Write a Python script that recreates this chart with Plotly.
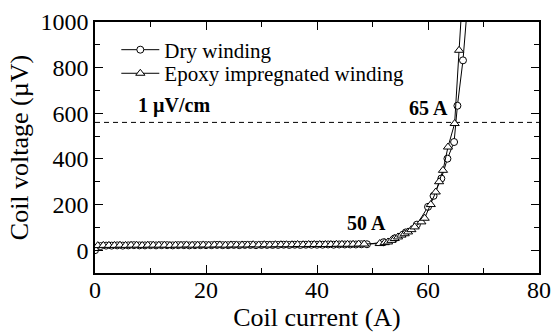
import plotly.graph_objects as go

# ---- data ----
dry_current = [0, 1, 2, 3, 4, 5, 6, 7, 8, 9, 10, 11, 12, 13, 14, 15, 16, 17, 18, 19,
               20, 21, 22, 23, 24, 25, 26, 27, 28, 29, 30, 31, 32, 33, 34, 35, 36, 37, 38, 39,
               40, 41, 42, 43, 44, 45, 46, 47, 48, 49,
               52, 54, 56, 58, 60, 61, 62.4, 63.5, 64.7, 65.3, 66.3, 67.2]
dry_voltage = [0, 18, 20, 20, 21, 20, 21, 22, 21, 21, 22, 21, 22, 22, 21, 22, 22, 21, 22, 22,
               22, 22, 23, 22, 22, 23, 22, 23, 23, 22, 23, 23, 23, 23, 24, 23, 24, 23, 24, 24,
               24, 24, 25, 24, 25, 25, 25, 25, 26, 26,
               35, 52, 78, 112, 190, 238, 314, 401, 474, 633, 832, 1100]

epoxy_current = [0.5, 1.5, 2.5, 3.5, 4.5, 5.5, 6.5, 7.5, 8.5, 9.5, 10.5, 11.5, 12.5, 13.5,
                 14.5, 15.5, 16.5, 17.5, 18.5, 19.5, 20.5, 21.5, 22.5, 23.5, 24.5, 25.5,
                 26.5, 27.5, 28.5, 29.5, 30.5, 31.5, 32.5, 33.5, 34.5, 35.5, 36.5, 37.5,
                 38.5, 39.5, 40.5, 41.5, 42.5, 43.5, 44.5, 45.5, 46.5, 47.5, 48.5,
                 51.3, 52.2, 52.8, 53.4, 54.0, 54.6, 55.2, 55.8, 56.4, 57.0, 57.6, 58.8,
                 59.4, 60.5, 61.4, 62.0, 62.7, 63.6, 64.8, 65.6, 66.3]
epoxy_voltage = [20, 21, 21, 21, 22, 21, 22, 22, 21, 22, 22, 22, 22, 21, 22, 22, 23, 22,
                 22, 23, 22, 23, 23, 22, 23, 23, 23, 23, 24, 23, 24, 23, 24, 24, 24, 24,
                 25, 24, 25, 25, 25, 25, 25, 26, 26, 26, 26, 27, 27,
                 29, 33, 36, 43, 51, 58, 66, 72, 80, 90, 102, 124,
                 140, 200, 255, 300, 350, 452, 555, 876, 1150]

criterion_voltage = 560
x_ticks = [0, 20, 40, 60, 80]
y_ticks = [0, 200, 400, 600, 800, 1000]

FONT = "Times New Roman, Liberation Serif, serif"

fig = go.Figure()
fig.add_trace(go.Scatter(
    x=dry_current, y=dry_voltage, mode="lines+markers", name="Dry winding",
    line=dict(color="black", width=1), legend="legend",
    marker=dict(symbol="circle", size=7, color="white", line=dict(color="black", width=1)),
))
fig.add_trace(go.Scatter(
    x=epoxy_current, y=epoxy_voltage, mode="lines+markers", name="Epoxy impregnated winding",
    line=dict(color="black", width=1), legend="legend2",
    marker=dict(symbol="triangle-up", size=8, color="white", line=dict(color="black", width=1)),
))

fig.add_shape(type="line", xref="x", yref="y", x0=0, x1=80,
              y0=criterion_voltage, y1=criterion_voltage,
              line=dict(color="black", width=1, dash="5px,4px"), layer="below")

ann_font = dict(family=FONT, size=20, color="black")
fig.add_annotation(x=14.2, y=635, text="<b>1 µV/cm</b>", showarrow=False, font=ann_font)
fig.add_annotation(x=60.1, y=622, text="<b>65 A</b>", showarrow=False, font=ann_font)
fig.add_annotation(x=49.0, y=118, text="<b>50 A</b>", showarrow=False, font=ann_font)

axis_common = dict(
    showline=True, linecolor="black", linewidth=1.5, mirror="ticks",
    ticks="inside", ticklen=8, tickwidth=1, tickcolor="black",
    showgrid=False, zeroline=False, automargin=False,
    tickfont=dict(family=FONT, size=24, color="black"),
)

fig.update_xaxes(
    range=[0, 80], tickvals=x_ticks, ticklabelstandoff=-6,
    title=dict(text="Coil current (A)", font=dict(family=FONT, size=26, color="black"), standoff=4),
    minor=dict(dtick=10, ticks="inside", ticklen=5, tickcolor="black", showgrid=False),
    **axis_common,
)
fig.update_yaxes(
    range=[-100, 1000], tickvals=y_ticks,
    title=dict(text="Coil voltage (µV)", font=dict(family=FONT, size=26, color="black"), standoff=4),
    minor=dict(dtick=100, ticks="inside", ticklen=5, tickcolor="black", showgrid=False),
    **axis_common,
)

legend_common = dict(xanchor="left", yanchor="top", bgcolor="rgba(0,0,0,0)",
                     font=dict(family=FONT, size=21, color="black"),
                     itemwidth=38, tracegroupgap=0)
fig.update_layout(
    width=553, height=334,
    margin=dict(l=95, r=14, t=22, b=61),
    paper_bgcolor="white", plot_bgcolor="white",
    showlegend=True,
    legend=dict(x=0.048, y=0.97, **legend_common),
    legend2=dict(x=0.048, y=0.876, **legend_common),
    font=dict(family=FONT, color="black"),
)

fig.write_html("out.html")
